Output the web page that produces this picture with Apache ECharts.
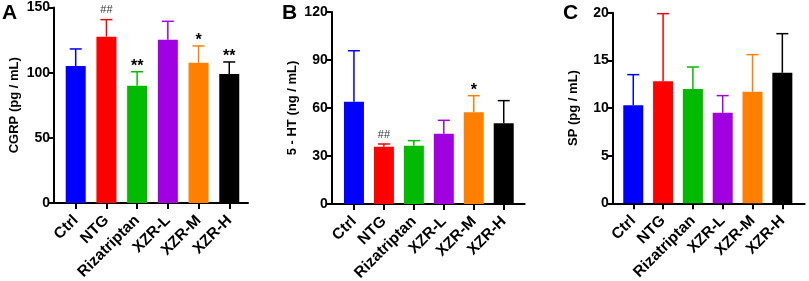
<!DOCTYPE html>
<html>
<head>
<meta charset="utf-8">
<script src="https://cdn.jsdelivr.net/npm/echarts@6/dist/echarts.min.js"></script>
<style>
html,body{margin:0;padding:0;background:#fff;}
#chart{width:809px;height:281px;}
</style>
</head>
<body>
<div id="chart"></div>
<script>
// ---- data ----
var categories = ['Ctrl', 'NTG', 'Rizatriptan', 'XZR-L', 'XZR-M', 'XZR-H'];
var barColors = ['#0000FF', '#FF0000', '#00BB00', '#A100E0', '#FF8000', '#000000'];

var cgrpMean = [105.1, 127.6, 90.0, 125.3, 107.7, 99.0];
var cgrpUpper = [118.2, 140.7, 100.7, 139.4, 120.5, 108.2];
var cgrpMarks = ['', '##', '**', '', '*', '**'];

var htMean = [63.9, 35.8, 36.4, 43.9, 57.3, 50.4];
var htUpper = [95.8, 37.5, 39.6, 52.3, 67.7, 64.6];
var htMarks = ['', '##', '', '', '*', ''];

var spMean = [10.3, 12.8, 12.0, 9.5, 11.7, 13.7];
var spUpper = [13.5, 19.9, 14.3, 11.3, 15.6, 17.8];
var spMarks = ['', '', '', '', '', ''];

var yTicksA = {min: 0, max: 150, interval: 50};
var yTicksB = {min: 0, max: 120, interval: 30};
var yTicksC = {min: 0, max: 20, interval: 5};

var panels = [
  {letter: 'A', name: 'CGRP (pg / mL)', mean: cgrpMean, upper: cgrpUpper, marks: cgrpMarks, ticks: yTicksA,
   grid: {left: 54, top: 7.5, width: 194, height: 195.5}, xr: [-0.707, 5.61], letterPos: [2, 3]},
  {letter: 'B', name: '5 - HT (ng / mL)', mean: htMean, upper: htUpper, marks: htMarks, ticks: yTicksB,
   grid: {left: 331.7, top: 12, width: 193, height: 192}, xr: [-0.743, 5.7], letterPos: [282, 3]},
  {letter: 'C', name: 'SP (pg / mL)', mean: spMean, upper: spUpper, marks: spMarks, ticks: yTicksC,
   grid: {left: 612.7, top: 12.7, width: 192, height: 190.6}, xr: [-0.69, 5.75], letterPos: [563, 3]}
];

var FONT = '"Liberation Sans", Arial, sans-serif';
var idx = categories.map(function (c, i) { return i; });

var option = {
  animation: false,
  backgroundColor: '#fff',
  grid: [], xAxis: [], yAxis: [], series: [], graphic: []
};

panels.forEach(function (p, k) {
  var g = Object.assign({containLabel: false, outerBoundsMode: 'none'}, p.grid);
  option.grid.push(g);
  option.xAxis.push({
    type: 'value', gridIndex: k, min: p.xr[0], max: p.xr[1],
    splitLine: {show: false},
    axisLine: {show: true, onZero: false, lineStyle: {color: '#000', width: 2}},
    axisTick: {show: true, customValues: idx, length: 6, lineStyle: {color: '#000', width: 2}},
    axisLabel: {
      customValues: idx, rotate: 45, margin: 15,
      color: '#000', fontWeight: 'bold', fontSize: 15.5, fontFamily: FONT,
      formatter: function (v) { return categories[Math.round(v)]; }
    }
  });
  option.yAxis.push({
    type: 'value', gridIndex: k, min: p.ticks.min, max: p.ticks.max, interval: p.ticks.interval,
    name: p.name, nameLocation: 'middle', nameGap: 33,
    nameTextStyle: {color: '#000', fontWeight: 'bold', fontSize: 13, fontFamily: FONT},
    splitLine: {show: false},
    axisLine: {show: true, onZero: false, lineStyle: {color: '#000', width: 2}},
    axisTick: {show: true, length: 5, lineStyle: {color: '#000', width: 2}},
    axisLabel: {color: '#000', fontWeight: 'bold', fontSize: 14, fontFamily: FONT, margin: 4}
  });
  option.series.push({
    type: 'bar', xAxisIndex: k, yAxisIndex: k, barWidth: 20,
    data: p.mean.map(function (v, i) {
      return {value: [i, v], itemStyle: {color: barColors[i]}};
    })
  });
  option.series.push({
    type: 'custom', xAxisIndex: k, yAxisIndex: k, z: 1,
    data: p.mean.map(function (v, i) { return [i, v, p.upper[i]]; }),
    renderItem: function (params, api) {
      var i = api.value(0);
      var base = api.coord([i, api.value(1)]);
      var top = api.coord([i, api.value(2)]);
      var col = barColors[i];
      var half = 6;
      var children = [
        {type: 'line', shape: {x1: base[0], y1: base[1], x2: top[0], y2: top[1]},
         style: {stroke: col, lineWidth: 1.5}},
        {type: 'line', shape: {x1: top[0] - half, y1: top[1], x2: top[0] + half, y2: top[1]},
         style: {stroke: col, lineWidth: 1.5}}
      ];
      var m = p.marks[i];
      if (m) {
        var isHash = m.charAt(0) === '#';
        children.push({
          type: 'text',
          style: {
            text: m, x: top[0], y: top[1] + (isHash ? -4 : 3),
            align: 'center', verticalAlign: 'bottom',
            fill: isHash ? '#333' : '#000',
            font: (isHash ? 'normal 11px ' : 'bold 16px ') + FONT
          }
        });
      }
      return {type: 'group', children: children};
    }
  });
  option.graphic.push({
    type: 'text', left: p.letterPos[0], top: p.letterPos[1],
    style: {text: p.letter, fill: '#000', font: 'bold 21px ' + FONT}
  });
});

var chart = echarts.init(document.getElementById('chart'), null, {renderer: 'canvas'});
chart.setOption(option);
</script>
</body>
</html>
